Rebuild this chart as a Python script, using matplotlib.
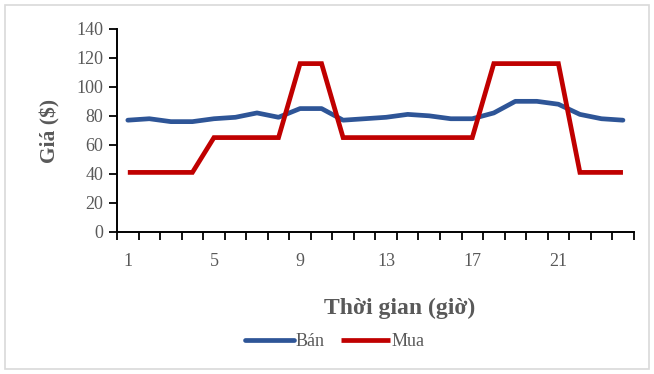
import matplotlib

matplotlib.use("Agg")
import matplotlib.pyplot as plt
from matplotlib.patches import Rectangle

# dữ liệu
hours = list(range(1, 25))
ban = [77, 78, 76, 76, 78, 79, 82, 79, 85, 85, 77, 78,
       79, 81, 80, 78, 78, 82, 90, 90, 88, 81, 78, 77]
mua = [41, 41, 41, 41, 65, 65, 65, 65, 116, 116, 65, 65,
       65, 65, 65, 65, 65, 116, 116, 116, 116, 41, 41, 41]
x_labels = [1, 5, 9, 13, 17, 21]

plt.rcParams["font.family"] = ["Liberation Serif", "DejaVu Serif"]
gray = "#595959"

fig = plt.figure(figsize=(6.54, 3.74), dpi=100)
ax = fig.add_axes([0.179, 0.380, 0.790, 0.543])

# khung viền mờ quanh hình
fig.patches.append(Rectangle((0.008, 0.013), 0.984, 0.974, transform=fig.transFigure,
                             fill=False, edgecolor="#d9d9d9", linewidth=1.2))

ax.plot(hours, ban, color="#2e5597", linewidth=3.4, solid_joinstyle="round",
        solid_capstyle="round", label="Bán")
ax.plot(hours, mua, color="#c00000", linewidth=3.4, solid_joinstyle="miter",
        solid_capstyle="butt", label="Mua")

ax.set_xlim(0.5, 24.5)
ax.set_ylim(0, 140)
ax.set_yticks(range(0, 141, 20))
ax.set_xticks(x_labels)
ax.set_xticks([i + 0.5 for i in range(0, 25)], minor=True)
ax.tick_params(axis="x", which="major", length=0, pad=15, labelsize=13, labelcolor=gray)
ax.tick_params(axis="x", which="minor", length=6, width=1.3, direction="out", color="black")
ax.tick_params(axis="y", length=6, width=1.3, direction="out", labelsize=13, labelcolor=gray, pad=4)

for side in ("top", "right"):
    ax.spines[side].set_visible(False)
for side in ("left", "bottom"):
    ax.spines[side].set_linewidth(1.4)
    ax.spines[side].set_color("black")

fig.text(0.077, 0.650, "Giá ($)", fontsize=15.5, fontweight="bold", color=gray,
         rotation=90, ha="center", va="center")
fig.text(0.611, 0.176, "Thời gian (giờ)", fontsize=17, fontweight="bold", color=gray,
         ha="center", va="center")

fig.legend(loc="center", bbox_to_anchor=(0.512, 0.086), ncol=2, frameon=False,
           fontsize=13, handlelength=2.7, handletextpad=0.1, columnspacing=0.9,
           labelcolor=gray)

fig.savefig("out.png", dpi=100)
